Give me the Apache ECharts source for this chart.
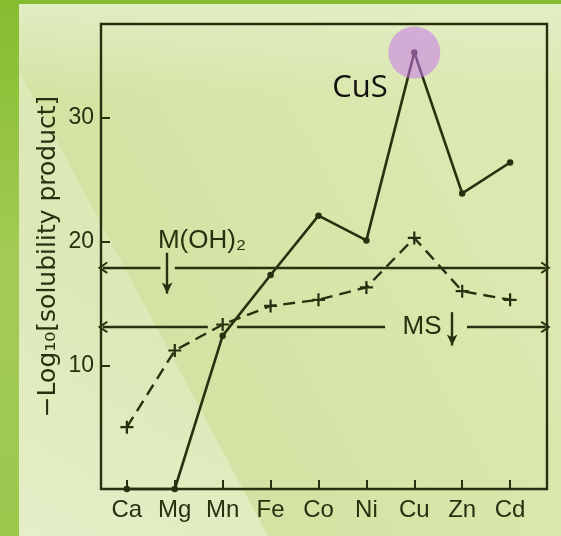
<!DOCTYPE html>
<html><head><meta charset="utf-8">
<script src="https://cdn.jsdelivr.net/npm/echarts@6/dist/echarts.min.js"></script>
<style>html,body{margin:0;padding:0;background:#8fc23c;}#c{width:561px;height:536px;}</style>
</head><body><div id="c"></div>
<script>
// ---- data ----
const categories = ['Ca', 'Mg', 'Mn', 'Fe', 'Co', 'Ni', 'Cu', 'Zn', 'Cd'];
const sulfideValues = [0, 0, 12.4, 17.3, 22.1, 20.1, 35.3, 23.9, 26.4];     // MS (solid)
const hydroxideValues = [5.0, 11.2, 13.3, 14.8, 15.3, 16.3, 20.3, 16.0, 15.3]; // M(OH)2 (dashed)
const yTickValues = [10, 20, 30];
const hydroxideLevel = 17.9;   // horizontal M(OH)2 reference line
const sulfideLevel = 13.1;     // horizontal MS reference line
const hydroxideArrow = [0.84, 19.1, 15.8]; // x, from, to
const sulfideArrow = [6.79, 14.3, 11.6];
const peakLabel = 'CuS';

const ink = '#283010';
const X_MIN = -0.54, X_MAX = 8.77, Y_MIN = 0, Y_MAX = 37.6;
const chevron = 'path://M5,0L10,7.2L8.8,8.3L5,2.8L1.2,8.3L0,7.2Z';
const plus = 'path://M4.15,0H5.85V4.15H10V5.85H5.85V10H4.15V5.85H0V4.15H4.15Z';

function seg(x1, x2, y, s1, s2) {
  return [
    {coord: [x1, y], symbol: s1 ? chevron : 'none', symbolSize: [12, 10]},
    {coord: [x2, y], symbol: s2 ? chevron : 'none', symbolSize: [12, 10]}
  ];
}
function vArrow(a) {
  return [
    {coord: [a[0], a[1]], symbol: 'none'},
    {coord: [a[0], a[2]], symbol: 'arrow', symbolSize: [8, 11]}
  ];
}

const chart = echarts.init(document.getElementById('c'), null, {renderer: 'canvas'});
const idx = categories.map((_, i) => i);

chart.setOption({
  animation: false,
  backgroundColor: {
    type: 'linear', x: 0, y: 0, x2: 0, y2: 1,
    colorStops: [{offset: 0, color: '#86bd2f'}, {offset: 0.5, color: '#a3cc55'}, {offset: 1, color: '#9cc84e'}]
  },
  graphic: [
    {type: 'rect', z: -10, silent: true, shape: {x: 19, y: 4, width: 542, height: 532},
      style: {fill: {type: 'linear', global: true, x: 150, y: 300, x2: 500, y2: 110,
        colorStops: [{offset: 0, color: '#d3e3a3'}, {offset: 1, color: '#dde9b2'}]}}},
    {type: 'polygon', z: -9, silent: true, shape: {points: [[19, 70], [19, 536], [268, 536]]},
      style: {fill: {type: 'linear', global: true, x: 19, y: 536, x2: 160, y2: 300,
        colorStops: [{offset: 0, color: '#e5efc8'}, {offset: 1, color: '#dce8b6'}]}}},
    {type: 'rect', z: -9, silent: true, shape: {x: 19, y: 4, width: 542, height: 90},
      style: {fill: {type: 'linear', x: 0, y: 0, x2: 0, y2: 1,
        colorStops: [{offset: 0, color: 'rgba(228,238,200,0.85)'}, {offset: 1, color: 'rgba(228,238,200,0)'}]}}},
    {type: 'text', z: 50, style: {text: 'M(OH)₂', x: 202, y: 241, align: 'center', verticalAlign: 'middle',
      font: '26px "Liberation Sans"', fill: ink}},
    {type: 'text', z: 50, style: {text: 'MS', x: 422, y: 327, align: 'center', verticalAlign: 'middle',
      font: '26px "Liberation Sans"', fill: ink}},
    {type: 'text', z: 50, style: {text: peakLabel, x: 360, y: 88, align: 'center', verticalAlign: 'middle',
      font: '31px "Open Sans"', fill: '#111'}}
  ],
  grid: {left: 101, right: 14, top: 24, bottom: 47, show: true, borderColor: ink, borderWidth: 2.4,
    backgroundColor: 'transparent'},
  xAxis: {
    type: 'value', min: X_MIN, max: X_MAX,
    axisLine: {show: false, onZero: false}, splitLine: {show: false},
    axisTick: {show: true, inside: true, length: 9, customValues: idx, lineStyle: {color: ink, width: 2}},
    axisLabel: {customValues: idx, formatter: v => categories[Math.round(v)] || '',
      fontFamily: 'Liberation Sans', fontSize: 24, color: ink, margin: 9}
  },
  yAxis: {
    type: 'value', min: Y_MIN, max: Y_MAX,
    axisLine: {show: false, onZero: false}, splitLine: {show: false},
    axisTick: {show: true, inside: true, length: 9, customValues: yTickValues, lineStyle: {color: ink, width: 2}},
    axisLabel: {customValues: yTickValues, fontFamily: 'Liberation Sans', fontSize: 23, color: ink, margin: 7},
    name: '−Log₁₀[solubility product]', nameLocation: 'middle', nameGap: 40, nameRotate: 90,
    nameMoveOverlap: false,
    nameTextStyle: {fontFamily: 'DejaVu Sans', fontSize: 25, color: ink}
  },
  series: [
    {
      name: 'MS', type: 'line', z: 3,
      data: sulfideValues.map((v, i) => [i, v]),
      symbol: 'circle', symbolSize: 6.5, showAllSymbol: true, clip: false,
      lineStyle: {color: ink, width: 2.6}, itemStyle: {color: ink},
      markPoint: {
        silent: true, symbol: 'circle', symbolSize: 52, label: {show: false},
        itemStyle: {color: 'rgba(200,120,235,0.55)'},
        data: [{coord: [6, sulfideValues[6]]}]
      }
    },
    {
      name: 'M(OH)2', type: 'line', z: 3,
      data: hydroxideValues.map((v, i) => [i, v]),
      symbol: plus, symbolSize: 13, showAllSymbol: true,
      lineStyle: {color: ink, width: 2.4, type: [12, 7]}, itemStyle: {color: ink},
      markLine: {
        silent: true, label: {show: false}, animation: false,
        lineStyle: {color: ink, width: 2.4, type: 'solid'},
        emphasis: {disabled: true},
        data: [
          seg(-0.5, 0.7, hydroxideLevel, true, false),
          seg(1.0, 8.74, hydroxideLevel, false, true),
          seg(-0.5, 1.69, sulfideLevel, true, false),
          seg(2.3, 5.39, sulfideLevel, false, false),
          seg(7.1, 8.74, sulfideLevel, false, true),
          vArrow(hydroxideArrow),
          vArrow(sulfideArrow)
        ]
      }
    }
  ]
});
</script></body></html>
